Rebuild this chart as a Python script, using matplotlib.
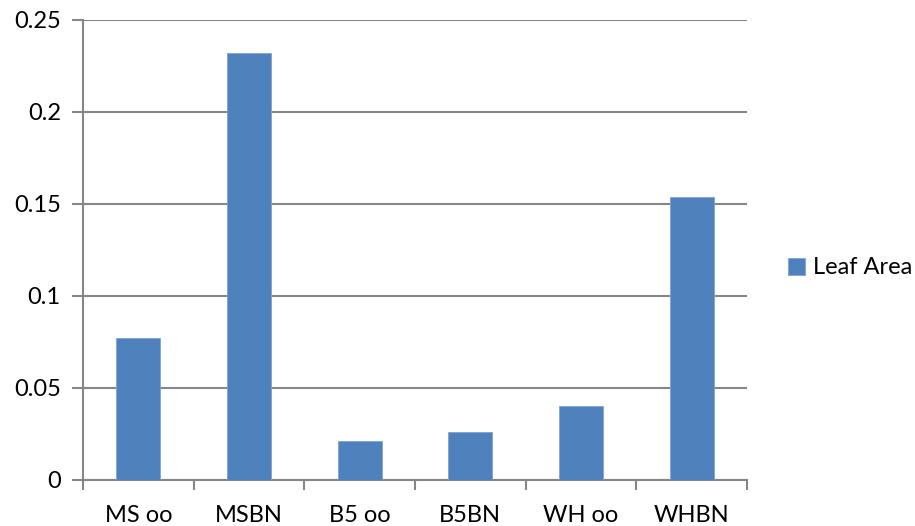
import matplotlib
matplotlib.use("Agg")
import matplotlib.pyplot as plt
import numpy as np

categories = ["MS oo", "MSBN", "B5 oo", "B5BN", "WH oo", "WHBN"]
leaf_area = [0.077, 0.232, 0.021, 0.026, 0.040, 0.154]
series_name = "Leaf Area"
y_ticks = [0, 0.05, 0.1, 0.15, 0.2, 0.25]
y_tick_labels = ["0", "0.05", "0.1", "0.15", "0.2", "0.25"]

plt.rcParams["font.family"] = ["Lato", "DejaVu Sans"]

bar_color = "#4F81BD"
grid_color = "#868686"

fig = plt.figure(figsize=(9.15, 5.26), dpi=100)
ax = fig.add_axes([83 / 915, 1 - 480 / 526, (747 - 83) / 915, (480 - 20) / 526])

x = np.arange(len(categories))
bars = ax.bar(x, leaf_area, width=0.4, color=bar_color, edgecolor="#7FA3D3",
              linewidth=0.6, label=series_name, zorder=3)

ax.set_xlim(-0.5, len(categories) - 0.5)
ax.set_ylim(0, 0.25)
ax.set_yticks(y_ticks)
ax.set_yticklabels(y_tick_labels)
ax.yaxis.grid(True, color=grid_color, linewidth=1.5, zorder=0)

# category labels centred under each bar, tick marks at the boundaries
ax.set_xticks(x)
ax.set_xticklabels(categories)
ax.tick_params(axis="x", which="major", length=0, pad=18, labelsize=17)
ax.set_xticks(np.arange(len(categories) + 1) - 0.5, minor=True)
ax.tick_params(axis="x", which="minor", length=7, width=1.5, color=grid_color,
               direction="out")
ax.tick_params(axis="y", length=8, width=1.5, color=grid_color, pad=8,
               labelsize=17, direction="out")

for side in ("top", "right"):
    ax.spines[side].set_visible(False)
for side in ("left", "bottom"):
    ax.spines[side].set_color(grid_color)
    ax.spines[side].set_linewidth(1.5)

fig.legend(handles=[bars], labels=[series_name], loc="center left",
           bbox_to_anchor=(788 / 915, 1 - 268 / 526), frameon=False,
           fontsize=17, handlelength=0.7, handleheight=0.7, handletextpad=0.35,
           borderpad=0, borderaxespad=0)

fig.savefig("out.png", dpi=100)
